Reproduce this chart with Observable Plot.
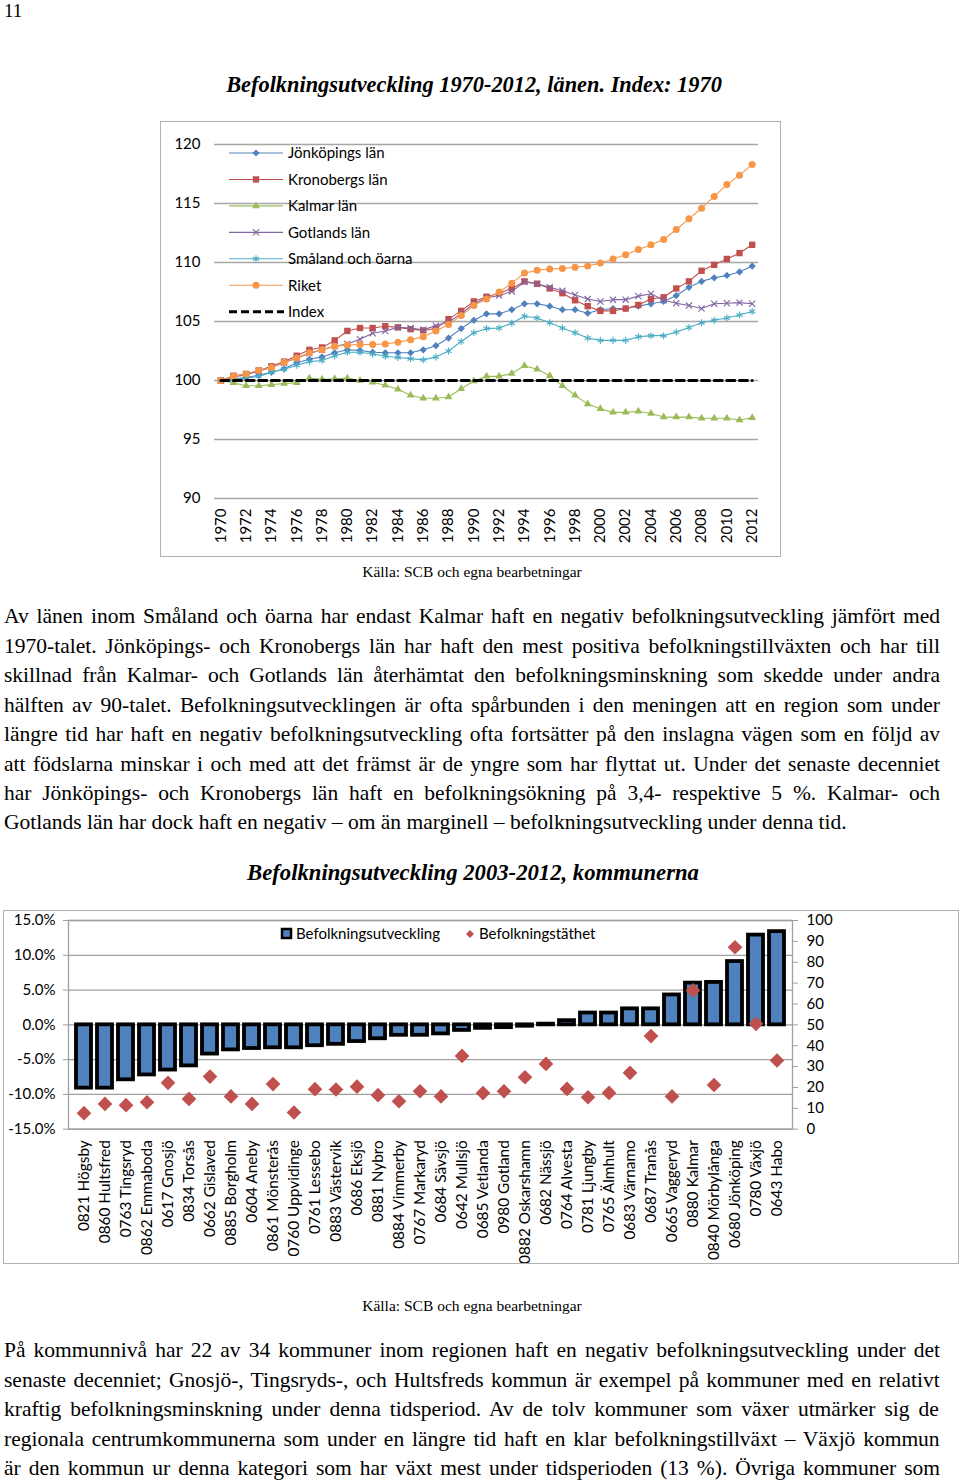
<!DOCTYPE html>
<html><head><meta charset="utf-8">
<script src="https://cdn.jsdelivr.net/npm/d3@7"></script>
<script src="https://cdn.jsdelivr.net/npm/@observablehq/plot@0.6"></script>
<style>
html,body{margin:0;padding:0;background:#fff;}
body{width:960px;height:1484px;position:relative;overflow:hidden;font-family:"Liberation Serif","Times New Roman",serif;color:#000;}
.abs{position:absolute;white-space:nowrap;}
.line{position:absolute;left:4px;width:960px;white-space:nowrap;font-family:"Liberation Serif",serif;}
.frame{position:absolute;border:1.5px solid #b0b0b0;box-sizing:border-box;pointer-events:none;}
svg.chart{position:absolute;overflow:visible;}
</style></head><body>
<script>
// ---------- DATA ----------
const years = [1970,1971,1972,1973,1974,1975,1976,1977,1978,1979,1980,1981,1982,1983,1984,1985,1986,1987,1988,1989,1990,1991,1992,1993,1994,1995,1996,1997,1998,1999,2000,2001,2002,2003,2004,2005,2006,2007,2008,2009,2010,2011,2012];
const yearTicks = [1970,1972,1974,1976,1978,1980,1982,1984,1986,1988,1990,1992,1994,1996,1998,2000,2002,2004,2006,2008,2010,2012];
const indexTicks = [90,95,100,105,110,115,120];
const seriesNames = ["Jönköpings län","Kronobergs län","Kalmar län","Gotlands län","Småland och öarna","Riket","Index"];
const jonkoping = [100.0,100.15,100.25,100.45,100.7,101.0,101.5,101.8,102.0,102.35,102.6,102.55,102.4,102.35,102.35,102.35,102.6,102.95,103.6,104.4,105.1,105.65,105.65,106.0,106.5,106.5,106.3,106.0,106.0,105.7,106.0,106.1,106.1,106.3,106.5,106.7,107.2,107.9,108.4,108.7,108.9,109.2,109.7];
const kronoberg = [100.0,100.4,100.55,100.85,101.2,101.6,102.1,102.6,102.8,103.4,104.2,104.45,104.45,104.6,104.5,104.35,104.25,104.4,105.2,105.9,106.7,107.1,107.4,107.8,108.4,108.2,107.8,107.4,106.8,106.3,105.9,105.9,106.1,106.4,106.9,107.05,107.8,108.4,109.3,109.8,110.3,110.8,111.5];
const kalmar = [100.0,99.8,99.55,99.55,99.65,99.75,99.8,100.2,100.1,100.15,100.2,100.0,99.85,99.6,99.25,98.75,98.5,98.5,98.6,99.3,99.95,100.35,100.35,100.6,101.25,100.95,100.4,99.55,98.75,98.0,97.6,97.3,97.3,97.4,97.2,96.9,96.9,96.9,96.8,96.8,96.8,96.65,96.85];
const gotland = [100.0,100.3,100.5,100.8,101.1,101.5,101.9,102.3,102.6,102.9,103.1,103.5,104.0,104.2,104.5,104.45,104.3,104.65,104.95,105.65,106.5,107.0,107.2,107.55,108.35,108.2,107.9,107.6,107.25,106.9,106.7,106.85,106.85,107.15,107.35,106.8,106.55,106.35,106.1,106.5,106.55,106.6,106.5];
const smaland = [100.0,100.1,100.2,100.35,100.7,100.95,101.3,101.6,101.7,102.1,102.4,102.4,102.25,102.05,101.95,101.85,101.75,102.0,102.5,103.3,104.05,104.4,104.45,104.85,105.45,105.3,104.9,104.45,104.05,103.6,103.4,103.4,103.4,103.7,103.8,103.8,104.1,104.5,104.9,105.1,105.3,105.55,105.85];
const riket = [100.0,100.35,100.55,100.85,101.1,101.55,101.9,102.35,102.6,102.9,103.0,103.05,103.05,103.1,103.25,103.45,103.7,104.2,104.75,105.5,106.35,106.9,107.5,108.25,109.1,109.35,109.45,109.5,109.6,109.7,109.95,110.3,110.65,111.1,111.5,111.95,112.8,113.7,114.6,115.6,116.6,117.4,118.3];
const indexLine = [100,100,100,100,100,100,100,100,100,100,100,100,100,100,100,100,100,100,100,100,100,100,100,100,100,100,100,100,100,100,100,100,100,100,100,100,100,100,100,100,100,100,100];

const kommuner = ["0821 Högsby","0860 Hultsfred","0763 Tingsryd","0862 Emmaboda","0617 Gnosjö","0834 Torsås","0662 Gislaved","0885 Borgholm","0604 Aneby","0861 Mönsterås","0760 Uppvidinge","0761 Lessebo","0883 Västervik","0686 Eksjö","0881 Nybro","0884 Vimmerby","0767 Markaryd","0684 Sävsjö","0642 Mullsjö","0685 Vetlanda","0980 Gotland","0882 Oskarshamn","0682 Nässjö","0764 Alvesta","0781 Ljungby","0765 Älmhult","0683 Värnamo","0687 Tranås","0665 Vaggeryd","0880 Kalmar","0840 Mörbylånga","0680 Jönköping","0780 Växjö","0643 Habo"];
const befUtveckling = [-9.1,-9.1,-7.9,-7.2,-6.5,-5.9,-4.2,-3.6,-3.4,-3.3,-3.3,-3.0,-2.8,-2.4,-2.0,-1.5,-1.5,-1.3,-0.8,-0.5,-0.4,-0.2,0.1,0.6,1.7,1.7,2.3,2.3,4.3,6.0,6.1,9.1,12.9,13.4];
const befTathet = [7.7,12.1,11.5,12.9,22.2,14.5,25.2,15.7,12.1,21.6,8.0,19.2,19.0,20.4,16.3,13.4,18.2,15.7,35.1,17.3,18.2,24.9,31.3,19.3,15.3,17.4,27.0,44.6,15.7,66.5,21.2,87.2,50.5,32.9];
const pctTicks = [-15,-10,-5,0,5,10,15];
const densityTicks = [0,10,20,30,40,50,60,70,80,90,100];
const legend2Names = ["Befolkningsutveckling","Befolkningstäthet"];

const pageTitle1 = "Befolkningsutveckling 1970-2012, länen. Index: 1970";
const pageTitle2 = "Befolkningsutveckling 2003-2012, kommunerna";
const sourceText = "Källa: SCB och egna bearbetningar";
const para1 = [
 "Av länen inom Småland och öarna har endast Kalmar haft en negativ befolkningsutveckling jämfört med",
 "1970-talet. Jönköpings- och Kronobergs län har haft den mest positiva befolkningstillväxten och har till",
 "skillnad från Kalmar- och Gotlands län återhämtat den befolkningsminskning som skedde under andra",
 "hälften av 90-talet. Befolkningsutvecklingen är ofta spårbunden i den meningen att en region som under",
 "längre tid har haft en negativ befolkningsutveckling ofta fortsätter på den inslagna vägen som en följd av",
 "att födslarna minskar i och med att det främst är de yngre som har flyttat ut. Under det senaste decenniet",
 "har Jönköpings- och Kronobergs län haft en befolkningsökning på 3,4- respektive 5 %. Kalmar- och",
 "Gotlands län har dock haft en negativ – om än marginell – befolkningsutveckling under denna tid."
];
const para2 = [
 "På kommunnivå har 22 av 34 kommuner inom regionen haft en negativ befolkningsutveckling under det",
 "senaste decenniet; Gnosjö-, Tingsryds-, och Hultsfreds kommun är exempel på kommuner med en relativt",
 "kraftig befolkningsminskning under denna tidsperiod. Av de tolv kommuner som växer utmärker sig de",
 "regionala centrumkommunerna som under en längre tid haft en klar befolkningstillväxt – Växjö kommun",
 "är den kommun ur denna kategori som har växt mest under tidsperioden (13 %). Övriga kommuner som"
];

// ---------- helpers ----------
const ctx = document.createElement("canvas").getContext("2d");
function measure(t, font){ ctx.font = font; return ctx.measureText(t).width; }
function addText(t, {left, center, size, font="\"Liberation Serif\"", style="", align="left", lh}) {
  const d = document.createElement("div");
  d.className = "abs";
  const L = lh || Math.round(size*1.4);
  d.style.font = `${style} ${size}px ${font}`;
  d.style.lineHeight = L + "px";
  d.style.top = (center - L/2) + "px";
  d.textContent = t;
  if (align === "center") { d.style.left = (left - 500) + "px"; d.style.width = "1000px"; d.style.textAlign = "center"; }
  else d.style.left = left + "px";
  document.body.appendChild(d);
  return d;
}
function addParagraph(lines, firstCenter, step, raggedLast, target, fs) {
  lines.forEach((t, i) => {
    const d = document.createElement("div");
    d.className = "line";
    d.style.fontSize = fs + "px";
    d.style.lineHeight = step + "px";
    d.style.top = (firstCenter + i*step - step/2) + "px";
    d.textContent = t;
    if (!(raggedLast && i === lines.length - 1)) {
      const w = measure(t, `${fs}px "Liberation Serif"`);
      const n = (t.match(/ /g) || []).length;
      d.style.wordSpacing = ((target - w) / n) + "px";
    }
    document.body.appendChild(d);
  });
}
function fitTitle(t, centerX, centerY, targetW) {
  const w = measure(t, `italic bold 20px "Liberation Serif"`);
  const fs = 20 * targetW / w;
  addText(t, {left: centerX, center: centerY, size: fs, style: "italic bold", align: "center"});
}
function addFrame(l, t, w, h) {
  const f = document.createElement("div");
  f.className = "frame";
  Object.assign(f.style, {left: l+"px", top: t+"px", width: w+"px", height: h+"px"});
  document.body.appendChild(f);
}

// ---------- page text ----------
addText("11", {left: 4, center: 10, size: 19});
fitTitle(pageTitle1, 474, 84, 496);
addText(sourceText, {left: 472, center: 572, size: 15.5, align: "center"});
const allLines = para1.slice(0, -1).concat(para2);
const maxW20 = Math.max(...allLines.map(l => measure(l, `20px "Liberation Serif"`)));
const bodySize = Math.min(21.5, 20 * 930 / maxW20);
addParagraph(para1, 617, 29.45, true, 936, bodySize);
fitTitle(pageTitle2, 473, 873, 452);
addText(sourceText, {left: 472, center: 1306, size: 15.5, align: "center"});
addParagraph(para2, 1351, 29.45, false, 936, bodySize);

// ---------- chart 1 ----------
const seriesDefs = [
  {name: seriesNames[0], values: jonkoping, color: "#4F81BD", symbol: "diamond2", r: 3.25, sym: d3.symbolDiamond2, filled: true},
  {name: seriesNames[1], values: kronoberg, color: "#C0504D", symbol: "square", r: 3.6, sym: d3.symbolSquare, filled: true},
  {name: seriesNames[2], values: kalmar, color: "#9BBB59", symbol: "triangle", r: 2.9, sym: d3.symbolTriangle, filled: true},
  {name: seriesNames[3], values: gotland, color: "#8064A2", symbol: "times", r: 2.9, sym: d3.symbolTimes, filled: false},
  {name: seriesNames[4], values: smaland, color: "#4BACC6", symbol: "asterisk", r: 3.3, sym: d3.symbolAsterisk, filled: false},
  {name: seriesNames[5], values: riket, color: "#F79646", symbol: "circle", r: 3.5, sym: d3.symbolCircle, filled: true}
];
const rows1 = s => years.map((yr, i) => ({year: yr, v: s.values[i]}));
const marks1 = [
  Plot.gridY(indexTicks, {stroke: "#a6a6a6", strokeOpacity: 1, strokeWidth: 1.3}),
  Plot.axisY(indexTicks, {tickSize: 0, tickPadding: 14, fontSize: 15, fill: "#000"}),
  Plot.axisX(yearTicks, {tickSize: 0, tickRotate: -90, tickPadding: 10, fontSize: 15, fill: "#000", tickFormat: d => String(d)})
];
for (const s of seriesDefs) {
  const data = rows1(s);
  marks1.push(Plot.line(data, {x: "year", y: "v", stroke: s.color, strokeWidth: 1.1}));
  marks1.push(Plot.dot(data, {x: "year", y: "v", symbol: s.symbol, r: s.r,
    fill: s.filled ? s.color : "none", stroke: s.filled ? "none" : s.color, strokeWidth: 1.1}));
}
marks1.push(Plot.line(years.map((yr, i) => ({year: yr, v: indexLine[i]})), {x: "year", y: "v", stroke: "#000", strokeWidth: 3, strokeDasharray: "8,4.65"}));

const chart1 = Plot.plot({
  width: 620, height: 435,
  marginTop: 23, marginBottom: 58, marginLeft: 54, marginRight: 22,
  style: {fontFamily: "Lato, sans-serif", fontSize: "15px", color: "#000", background: "transparent", overflow: "visible"},
  x: {type: "linear", domain: [years[0] - 0.5, years[years.length - 1] + 0.5], label: null},
  y: {domain: [90, 120], label: null},
  marks: marks1
});
chart1.classList.add("chart");
chart1.style.left = "160px"; chart1.style.top = "121px";
document.body.appendChild(chart1);
addFrame(160, 121, 621, 436);

// legend 1 (overlay)
const leg1 = d3.select(document.body).append("svg").attr("class", "chart")
  .style("left", "0px").style("top", "0px").attr("width", 960).attr("height", 400);
seriesNames.forEach((name, i) => {
  const cy = 153 + i * 26.45;
  const g = leg1.append("g");
  if (i < seriesDefs.length) {
    const s = seriesDefs[i];
    g.append("line").attr("x1", 229).attr("x2", 283).attr("y1", cy).attr("y2", cy).attr("stroke", s.color).attr("stroke-width", 1.1);
    g.append("path").attr("transform", `translate(256,${cy})`)
      .attr("d", d3.symbol(s.sym, Math.PI * s.r * s.r)())
      .attr("fill", s.filled ? s.color : "none").attr("stroke", s.filled ? "none" : s.color).attr("stroke-width", 1.1);
  } else {
    g.append("line").attr("x1", 229).attr("x2", 284).attr("y1", cy).attr("y2", cy).attr("stroke", "#000").attr("stroke-width", 3).attr("stroke-dasharray", "8,4");
  }
  g.append("text").attr("x", 288).attr("y", cy).attr("dy", "0.36em")
    .style("font-family", "Lato, sans-serif").style("font-size", "15px").text(name);
});

// ---------- chart 2 ----------
const rows2 = kommuner.map((k, i) => ({k, u: befUtveckling[i], t: befTathet[i]}));
const densToPct = v => (v - 50) * 0.3;
const chart2 = Plot.plot({
  width: 955, height: 353,
  marginTop: 10, marginBottom: 134.3, marginLeft: 65, marginRight: 166,
  style: {fontFamily: "Lato, sans-serif", fontSize: "15px", color: "#000", background: "transparent", overflow: "visible"},
  x: {type: "band", domain: kommuner, paddingInner: 0.3, paddingOuter: 0.15, label: null},
  y: {domain: [-15, 15], label: null},
  marks: [
    Plot.gridY(pctTicks, {stroke: "#a0a0a0", strokeOpacity: 1, strokeWidth: 1.3}),
    Plot.frame({stroke: "#a0a0a0", strokeWidth: 1.3}),
    Plot.axisY(pctTicks, {anchor: "left", tickSize: 5, tickPadding: 8, stroke: "#a0a0a0", fill: "#000", fontSize: 15,
      tickFormat: d => d.toFixed(1) + "%"}),
    Plot.axisY(densityTicks.map(densToPct), {anchor: "right", tickSize: 5, tickPadding: 9, stroke: "#a0a0a0", fill: "#000", fontSize: 15,
      tickFormat: d => String(Math.round(d / 0.3 + 50))}),
    Plot.axisX({anchor: "bottom", tickSize: 0, tickRotate: -90, tickPadding: 11, fontSize: 15.4, fill: "#000"}),
    Plot.barY(rows2, {x: "k", y1: 0, y2: "u", fill: "#4F81BD", stroke: "#000", strokeWidth: 3.8}),
    Plot.dot(rows2, {x: "k", y: d => densToPct(d.t), symbol: "diamond2", r: 6.6, fill: "#C0504D", stroke: "none"})
  ]
});
chart2.classList.add("chart");
chart2.style.left = "3px"; chart2.style.top = "910px";
document.body.appendChild(chart2);
addFrame(3, 910, 956, 354);

// legend 2
const leg2 = d3.select(document.body).append("svg").attr("class", "chart")
  .style("left", "0px").style("top", "900px").attr("width", 960).attr("height", 80);
leg2.append("rect").attr("x", 282).attr("y", 29).attr("width", 9).attr("height", 9)
  .attr("fill", "#4F81BD").attr("stroke", "#000").attr("stroke-width", 2.5);
leg2.append("text").attr("x", 296).attr("y", 34).attr("dy", "0.36em")
  .style("font-family", "Lato, sans-serif").style("font-size", "15px").text(legend2Names[0]);
leg2.append("path").attr("transform", "translate(470,34)").attr("d", d3.symbol(d3.symbolDiamond2, 40)()).attr("fill", "#C0504D");
leg2.append("text").attr("x", 479).attr("y", 34).attr("dy", "0.36em")
  .style("font-family", "Lato, sans-serif").style("font-size", "15px").text(legend2Names[1]);
</script>
</body></html>
